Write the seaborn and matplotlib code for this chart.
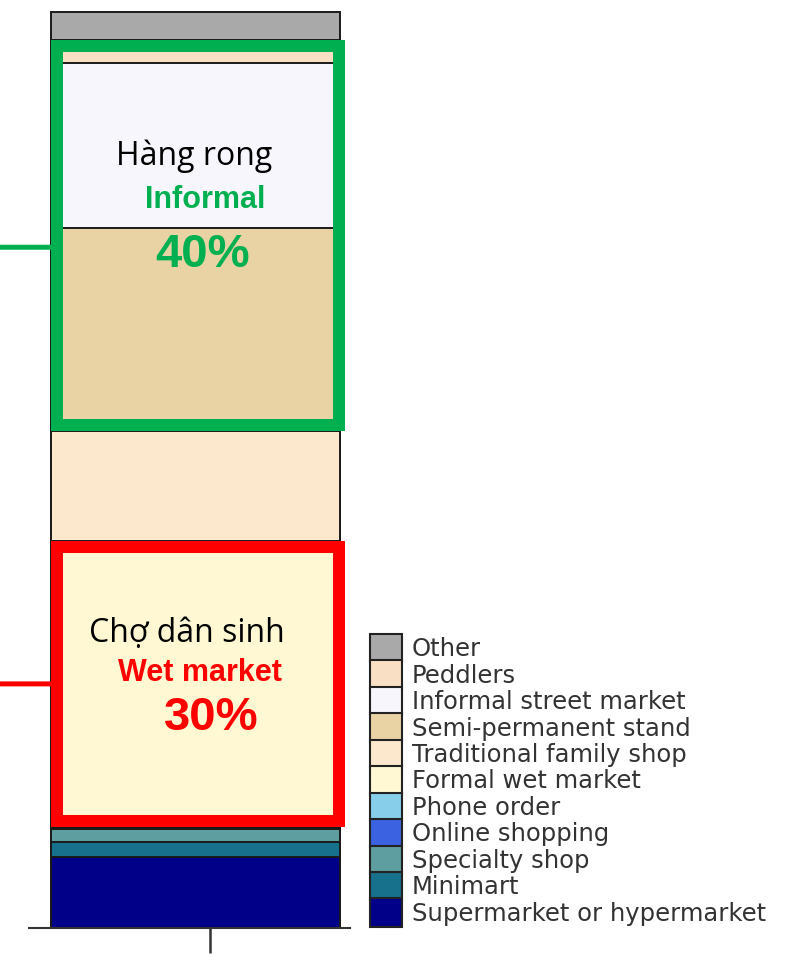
import matplotlib
matplotlib.use("Agg")
import matplotlib.pyplot as plt
from matplotlib.patches import Patch, Rectangle
import pandas as pd
import seaborn as sns

# channel shares (%) listed from the top of the bar down to the bottom
channels = ["Other", "Peddlers", "Informal street market", "Semi-permanent stand",
            "Traditional family shop", "Formal wet market", "Phone order",
            "Online shopping", "Specialty shop", "Minimart",
            "Supermarket or hypermarket"]
shares = [3.05, 2.5, 18.0, 22.2, 12.0, 31.2, 0.1, 0.15, 1.4, 1.7, 7.7]
colors = ["#a9a9a9", "#f9dfc3", "#f6f6fc", "#e9d3a4", "#fce9cd", "#fff8d2",
          "#87ceeb", "#3b62e0", "#5f9ea0", "#17708c", "#000088"]

# highlighted groups of channels
group_first = ["Peddlers", "Formal wet market"]
group_last = ["Semi-permanent stand", "Formal wet market"]
group_colors = ["#00b050", "#ff0000"]
group_vi = ["Hàng rong", "Chợ dân sinh"]
group_en = ["Informal", "Wet market"]
group_total = ["40%", "30%"]
link_frac = [0.53, 0.5]  # where the side line meets the box (from the top)

df = pd.DataFrame({"channel": channels, "share": shares, "color": colors})
df["top"] = df["share"][::-1].cumsum()[::-1]
df["bottom"] = df["top"] - df["share"]
df["group"] = ""
df = df.set_index("channel", drop=False)

sns.set_theme(style="white")
plt.rcParams["font.family"] = ["DejaVu Sans"]

W, H = 810, 960
fig = plt.figure(figsize=(W / 100, H / 100), dpi=100)
ax = fig.add_axes([29 / W, 32 / H, 321 / W, 916 / H])

bar_w = 0.9
# overlapping cumulative bars, tallest first, give the stacked look
for ch in channels:
    sns.barplot(data=df.loc[[ch]], x="group", y="top", color=df.loc[ch, "color"],
                saturation=1, width=bar_w, errorbar=None, edgecolor="#1a1a1a",
                linewidth=1.4, ax=ax)
for p in ax.patches:
    p.set_clip_on(False)

px_x = 1 / 321
px_y = 100 / 916
ax.set_xlim(-166.5 * px_x, -166.5 * px_x + 1)
ax.set_ylim(0, 100)
ax.set_xlabel("")
ax.set_ylabel("")
ax.set_yticks([])
ax.set_xticks([14.5 * px_x])
ax.set_xticklabels([""])
ax.tick_params(axis="x", length=18, width=1.8, color="#333333", direction="out",
               bottom=True)
sns.despine(ax=ax, left=True)
ax.spines["bottom"].set_color("#333333")
ax.spines["bottom"].set_linewidth(1.5)

# coloured boxes around the grouped segments
lw_px = 12
left = -bar_w / 2
right = bar_w / 2 + 5 * px_x
for i in range(len(group_colors)):
    top = df.loc[group_first[i], "top"]
    bot = df.loc[group_last[i], "bottom"]
    x0 = left + lw_px / 2 * px_x
    x1 = right - lw_px / 2 * px_x
    y0 = bot + lw_px / 2 * px_y
    y1 = top - lw_px / 2 * px_y
    ax.add_patch(Rectangle((x0, y0), x1 - x0, y1 - y0, fill=False,
                           edgecolor=group_colors[i], linewidth=lw_px * 0.72,
                           joinstyle="miter", clip_on=False, zorder=5))
    y_link = top - link_frac[i] * (top - bot)
    ax.annotate("", xy=(left, y_link), xycoords="data",
                xytext=(0, y_link), textcoords=("figure fraction", "data"),
                arrowprops=dict(arrowstyle="-", color=group_colors[i], lw=3.6,
                                shrinkA=0, shrinkB=0), zorder=5)

# group labels (pixel positions from the top-left corner)
label_xy = [[(194, 165), (205, 208), (203, 267)],
            [(187, 642), (200, 681), (211, 730)]]
for i in range(len(group_colors)):
    (xa, ya), (xb, yb), (xc, yc) = label_xy[i]
    fig.text(xa / W, 1 - ya / H, group_vi[i], ha="center", va="baseline",
             fontsize=23, color="black", family=["Open Sans", "DejaVu Sans"])
    fig.text(xb / W, 1 - yb / H, group_en[i], ha="center", va="baseline",
             fontsize=22, fontweight="bold", color=group_colors[i],
             family=["Liberation Sans", "DejaVu Sans"])
    fig.text(xc / W, 1 - yc / H, group_total[i], ha="center", va="baseline",
             fontsize=34, fontweight="bold", color=group_colors[i],
             family=["Liberation Sans", "DejaVu Sans"])

handles = [Patch(facecolor=c, edgecolor="#222222", linewidth=1.5) for c in colors]
fig.legend(handles, channels, loc="upper left",
           bbox_to_anchor=(370 / W, 1 - 634 / H), frameon=False,
           prop={"family": "DejaVu Sans", "size": 17.5}, labelcolor="#333333",
           handlelength=1.32, handleheight=1.42, labelspacing=-0.08,
           handletextpad=0.41, borderpad=0, borderaxespad=0)

fig.savefig("out.png", dpi=100, facecolor="white")
